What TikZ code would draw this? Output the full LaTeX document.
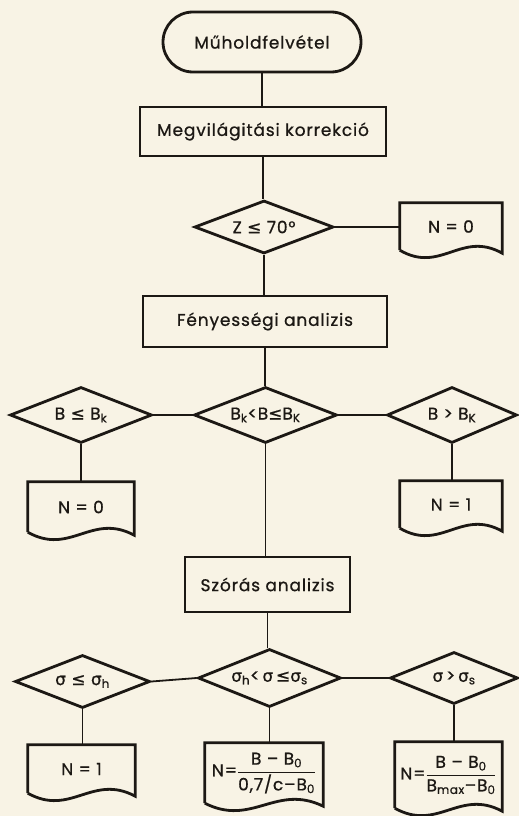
\documentclass[tikz,border=0pt]{standalone}
\usepackage{amsmath}
\usepackage{fontspec}
\setmainfont[LetterSpace=5,FakeBold=0.8]{Poppins}
\newfontfamily\symf[FakeBold=0.8]{DejaVu Sans}
\usetikzlibrary{shapes.geometric,calc}
\definecolor{paper}{RGB}{248,243,229}
\definecolor{ink}{RGB}{28,24,20}
\newcommand{\sbs}[1]{\textsubscript{#1}}
\newcommand{\leqs}{{\symf ≤}}
\newcommand{\sig}{{\symf σ}}
\newcommand{\frc}[2]{\ensuremath{\dfrac{\text{#1}}{\text{#2}}}}
\newcommand{\dtext}[1]{\makebox[0pt]{#1}}
\tikzset{
  shapeline/.style={draw=ink, line width=2.8pt},
  conn/.style={draw=ink, line width=1.8pt},
  txt/.style={text=ink, font=\fontsize{17}{20}\selectfont, inner sep=0pt},
  term/.style={txt, shapeline, rectangle, rounded corners=30pt},
  procbox/.style={txt, shapeline, rectangle},
  decision/.style={txt, shapeline, diamond, aspect=2.6},
  docbox/.style={txt, rectangle},
}
\begin{document}
\begin{tikzpicture}[x=1pt, y=-1pt]
\fill[paper] (0,0) rectangle (519,816);
\useasboundingbox (0,0) rectangle (519,816);

\node[term, minimum width=198pt, minimum height=60pt] (t) at (262,42) {Műholdfelvétel};
\node[procbox, minimum width=246pt, minimum height=49pt] (p1) at (263,131.5) {Megvilágitási korrekció};
\node[decision, minimum width=139pt, minimum height=53pt] (z) at (264,227) {\dtext{Z \leqs\ 70°}};
\node[docbox, minimum width=102pt, minimum height=47pt] (d0) at (451,226.5) {N = 0};
\node[procbox, minimum width=244pt, minimum height=51pt] (p2) at (265,321.5) {Fényességi analizis};

\node[decision, minimum width=143pt, minimum height=56pt] (bm) at (265.5,415) {\dtext{B\sbs{k}<B\leqs B\sbs{K}}};
\node[decision, minimum width=142pt, minimum height=56pt] (bl) at (81,415) {\dtext{B \leqs\ B\sbs{k}}};
\node[decision, minimum width=130pt, minimum height=56pt] (br) at (452,415) {\dtext{B > B\sbs{K}}};
\node[docbox, minimum width=106pt, minimum height=50pt] (d1) at (81,507) {N = 0};
\node[docbox, minimum width=102pt, minimum height=47pt] (d2) at (451,504.5) {N = 1};

\node[procbox, minimum width=165pt, minimum height=55pt] (p3) at (267.5,584.5) {Szórás analizis};

\node[decision, minimum width=143pt, minimum height=58pt] (sm) at (269.5,678) {\dtext{\sig\sbs{h}<\,\sig\,\leqs\sig\sbs{s}}};
\node[decision, minimum width=135pt, minimum height=53pt] (sl) at (82.5,681.5) {\dtext{\sig\ \leqs\ \sig\sbs{h}}};
\node[decision, minimum width=128pt, minimum height=52pt] (sr) at (454,678) {\dtext{\sig\,>\,\sig\sbs{s}}};
\node[docbox, minimum width=107pt, minimum height=48pt] (d3) at (81.5,769) {N = 1};
\node[docbox, minimum width=118pt, minimum height=60pt] (d4) at (264,773) {N=\frc{B -- B\sbs{0}}{0,7/c--B\sbs{0}}};
\node[docbox, minimum width=107pt, minimum height=66pt] (d5) at (448.5,775) {N=\frc{B -- B\sbs{0}}{B\sbs{max}--B\sbs{0}}};

% document outlines
\foreach \n in {d0,d1,d2,d3,d4,d5}{
  \draw[shapeline, line join=miter]
    (\n.south west) -- (\n.north west) -- (\n.north east) -- ($(\n.south east)+(0,3)$)
    .. controls ($(\n.south west)!0.6!(\n.south east)+(0,-20)$)
           and ($(\n.south west)!0.4!(\n.south east)+(0,24)$) .. (\n.south west);
}

% connectors
\draw[conn] (t.south) -- (t.south |- p1.north);
\draw[conn] (p1.south) -- (p1.south |- z.north);
\draw[conn] (z.east) -- (z.east -| d0.west);
\draw[conn] (z.south) -- (z.south |- p2.north);
\draw[conn] (p2.south) -- (p2.south |- bm.north);
\draw[conn] (bl.east) -- (bm.west);
\draw[conn] (bm.east) -- (br.west);
\draw[conn] (bl.south) -- (bl.south |- d1.north);
\draw[conn] (br.south) -- (br.south |- d2.north);
\draw[conn] (bm.south) -- (bm.south |- p3.north);
\draw[conn] (p3.south) -- (p3.south |- sm.north);
\draw[conn] (sl.east) -- (sm.west);
\draw[conn] (sm.east) -- (sr.west);
\draw[conn] (sl.south) -- (sl.south |- d3.north);
\draw[conn] (sm.south) -- (sm.south |- d4.north);
\draw[conn] (sr.south) -- (sr.south |- d5.north);
\end{tikzpicture}
\end{document}
